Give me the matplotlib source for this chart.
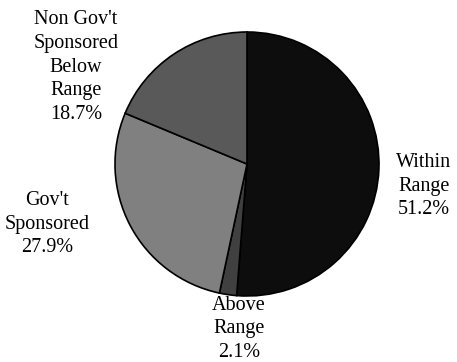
import matplotlib.pyplot as plt

labels = ["Within\nRange", "Above\nRange", "Gov't\nSponsored", "Non Gov't\nSponsored\nBelow\nRange"]
shares = [51.2, 2.1, 27.9, 18.7]
colors = ["#0d0d0d", "#404040", "#808080", "#595959"]

# label centres in pixel coords (x, y from top)
label_pos = [(424, 186), (239, 329), (47, 224), (76, 67)]

plt.rcParams['font.family'] = ['Liberation Serif', 'DejaVu Serif']

fig = plt.figure(figsize=(4.57, 3.62), dpi=100)
ax = fig.add_axes([0, 0, 1, 1])
ax.pie(shares, colors=colors, startangle=90, counterclock=False,
       center=(247, 362 - 164), radius=132, frame=True,
       wedgeprops=dict(edgecolor='black', linewidth=1.2))

for lab, val, (x, y) in zip(labels, shares, label_pos):
    ax.text(x, 362 - y, f"{lab}\n{val:.1f}%", ha='center', va='center',
            fontsize=14.5, linespacing=1.33, color='black')

ax.set_xlim(0, 457)
ax.set_ylim(0, 362)
ax.set_aspect('equal')
ax.axis('off')
fig.savefig('out.png', dpi=100)
